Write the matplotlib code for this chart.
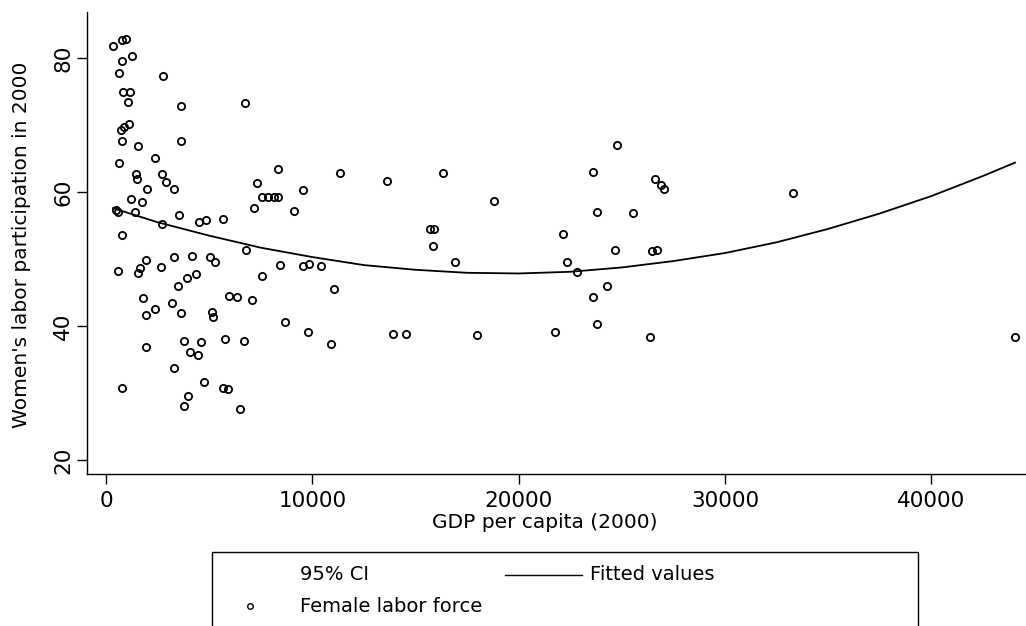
import matplotlib
matplotlib.use("Agg")
import matplotlib.pyplot as plt
from matplotlib.lines import Line2D
from matplotlib.patches import Rectangle

# GDP per capita (2000) and women's labor participation (%), one entry per country
gdp = [
    350, 760, 955, 1275, 790, 630, 2750, 840, 1165, 1080,
    3635, 6740, 730, 890, 1115, 760, 1570, 3620, 2375, 630,
    1440, 1485, 2700, 2890, 1970, 3300, 7300, 7550, 7840, 8130,
    8320, 7190, 1210, 1730, 470, 560, 1400, 2700, 3540, 4510,
    4830, 5690, 760, 6770, 7550, 1920, 1650, 1535, 600, 2650,
    3310, 4180, 5040, 5280, 4360, 3910, 3500, 5960, 6360, 7090,
    1770, 2375, 1940, 3210, 3635, 5120, 5200,
    1920, 3800, 4600, 5770, 6700, 4070, 4470, 3310, 790, 4770,
    5690, 5930, 3990, 3800, 6500,
    8350, 11340, 13600, 16350, 18810, 9530, 9110, 8430, 9530, 9850,
    10400, 11050, 15700, 15900, 15870, 16920, 8680, 9810, 10890, 13900,
    14540, 17970,
    24780, 23620, 26610, 26900, 27050, 33320, 23780, 25530, 22170, 24670,
    26450, 26690, 22360, 22810, 24270, 23620, 23780, 21760, 26370, 44060,
]
participation = [
    81.8, 82.7, 82.9, 80.3, 79.6, 77.8, 77.3, 75.0, 75.0, 73.4,
    72.8, 73.3, 69.3, 69.75, 70.1, 67.6, 66.9, 67.6, 65.1, 64.3,
    62.7, 62.0, 62.7, 61.5, 60.4, 60.4, 61.4, 59.2, 59.2, 59.2,
    59.2, 57.6, 59.0, 58.5, 57.4, 57.0, 57.1, 55.3, 56.6, 55.5,
    55.8, 56.0, 53.6, 51.4, 47.5, 49.9, 48.6, 47.9, 48.2, 48.8,
    50.3, 50.5, 50.3, 49.6, 47.8, 47.1, 46.0, 44.5, 44.3, 43.9,
    44.2, 42.6, 41.6, 43.5, 42.0, 42.1, 41.4,
    36.8, 37.8, 37.6, 38.1, 37.8, 36.1, 35.6, 33.8, 30.8, 31.6,
    30.8, 30.6, 29.6, 28.1, 27.6,
    63.5, 62.8, 61.6, 62.8, 58.6, 60.3, 57.2, 49.1, 49.0, 49.3,
    48.9, 45.5, 54.5, 54.5, 52.0, 49.6, 40.6, 39.1, 37.3, 38.8,
    38.8, 38.6,
    67.0, 63.0, 62.0, 61.0, 60.5, 59.8, 57.1, 56.9, 53.7, 51.3,
    51.2, 51.4, 49.5, 48.0, 46.0, 44.3, 40.3, 39.1, 38.3, 38.3,
]

# quadratic fitted values along the GDP range
fit_gdp = [340, 2500, 5000, 7500, 10000, 12500, 15000, 17500, 20000, 22500,
           25000, 27500, 30000, 32500, 35000, 37500, 40000, 42500, 44060]
fit_values = [57.6, 55.5, 53.5, 51.7, 50.3, 49.1, 48.4, 47.95, 47.85, 48.1,
              48.75, 49.7, 50.9, 52.5, 54.5, 56.8, 59.4, 62.4, 64.4]

x_ticks = [0, 10000, 20000, 30000, 40000]
y_ticks = [20, 40, 60, 80]

plt.rcParams['font.family'] = ['DejaVu Sans']
FS = 14.5

W, H = 1026, 626
fig = plt.figure(figsize=(W / 100, H / 100), dpi=100)


def fx(x):
    return x / W


def fy(y):
    return 1 - y / H


ax = fig.add_axes([fx(87), fy(474), fx(W - 87), (474 - 12) / H])

ax.plot(fit_gdp, fit_values, color='black', linewidth=1.3)
ax.plot(gdp, participation, linestyle='none', marker='o', markersize=5.2,
        markerfacecolor='none', markeredgecolor='black', markeredgewidth=1.3)

ax.set_xlim(-921, 44595)
ax.set_ylim(17.9, 86.9)
ax.set_xticks(x_ticks)
ax.set_yticks(y_ticks)
ax.set_xticklabels([str(t) for t in x_ticks], fontsize=15.5)
ax.set_yticklabels([str(t) for t in y_ticks], fontsize=15.5, rotation=90, va='center')
ax.tick_params(axis='both', direction='out', length=7, width=1.0)
ax.tick_params(axis='x', pad=5)
ax.tick_params(axis='y', pad=3)
for side in ['top', 'right']:
    ax.spines[side].set_visible(False)
for side in ['left', 'bottom']:
    ax.spines[side].set_linewidth(1.0)

fig.text(fx(545), fy(522), "GDP per capita (2000)", fontsize=FS,
         ha='center', va='center')
fig.text(fx(22), fy(245), "Women's labor participation in 2000", fontsize=FS,
         ha='center', va='center', rotation=90)

# legend box, open at the bottom edge of the figure
fig.patches.append(Rectangle((fx(212), fy(632)), fx(918 - 212), (632 - 552) / H,
                             transform=fig.transFigure, facecolor='none',
                             edgecolor='black', linewidth=1.0))
fig.text(fx(300), fy(575), "95% CI", fontsize=14, ha='left', va='center')
fig.lines.append(Line2D([fx(505), fx(582)], [fy(575), fy(575)],
                        transform=fig.transFigure, color='black', linewidth=1.0))
fig.text(fx(590), fy(575), "Fitted values", fontsize=14, ha='left', va='center')
fig.lines.append(Line2D([fx(250)], [fy(606)], transform=fig.transFigure,
                        linestyle='none', marker='o', markersize=4,
                        markerfacecolor='none', markeredgecolor='black',
                        markeredgewidth=1.0))
fig.text(fx(300), fy(606), "Female labor force", fontsize=14, ha='left', va='center')

fig.savefig("out.png", dpi=100)
